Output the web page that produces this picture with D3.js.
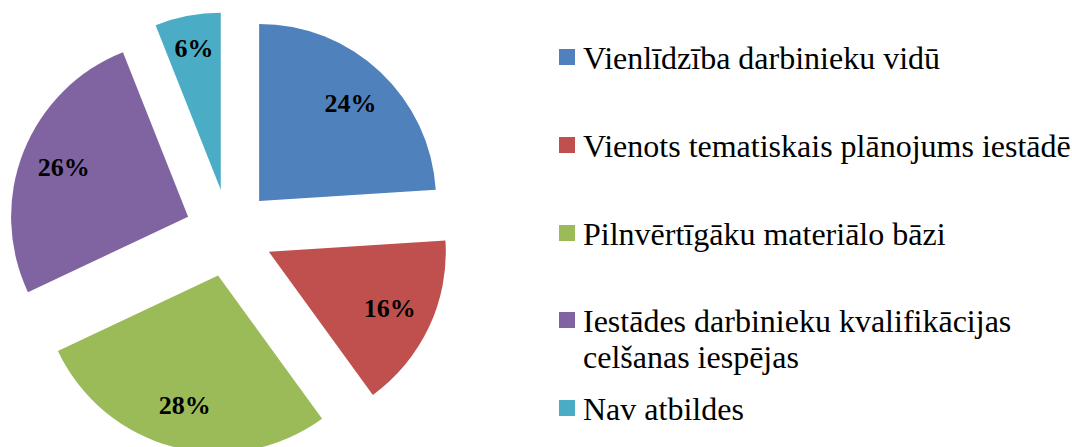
<!DOCTYPE html>
<html>
<head>
<meta charset="utf-8">
<script src="https://cdn.jsdelivr.net/npm/d3@7"></script>
<style>
  html, body { margin: 0; padding: 0; background: #fff; }
  svg { display: block; }
</style>
</head>
<body>
<svg id="chart" width="1072" height="447"></svg>
<script>
const categories = [
  "Vienlīdzība darbinieku vidū",
  "Vienots tematiskais plānojums iestādē",
  "Pilnvērtīgāku materiālo bāzi",
  "Iestādes darbinieku kvalifikācijas celšanas iespējas",
  "Nav atbildes"
];
const legendLines = [
  ["Vienlīdzība darbinieku vidū"],
  ["Vienots tematiskais plānojums iestādē"],
  ["Pilnvērtīgāku materiālo bāzi"],
  ["Iestādes darbinieku kvalifikācijas", "celšanas iespējas"],
  ["Nav atbildes"]
];
const values = [24, 16, 28, 26, 6];
const colors = ["#4F81BD", "#C0504D", "#9BBB59", "#8064A2", "#4BACC6"];

const svg = d3.select("#chart");
const cx = 229, cy = 233, R = 177, explode = 44;

const pie = d3.pie().sort(null).value(d => d.value);
const arcs = pie(values.map((v, i) => ({ value: v, name: categories[i], color: colors[i] })));
const arc = d3.arc().innerRadius(0).outerRadius(R);
// small slices get their label pushed further out
const labelRadius = d => (d.endAngle - d.startAngle) < 0.1 * 2 * Math.PI ? R * 0.81 : R * 0.755;

const g = svg.append("g").attr("transform", `translate(${cx},${cy})`);
const slices = g.selectAll("g.slice").data(arcs).enter().append("g")
  .attr("class", "slice")
  .attr("transform", d => {
    const m = (d.startAngle + d.endAngle) / 2;
    return `translate(${explode * Math.sin(m)},${-explode * Math.cos(m)})`;
  });
slices.append("path").attr("d", arc).attr("fill", d => d.data.color);
slices.append("text")
  .attr("x", d => labelRadius(d) * Math.sin((d.startAngle + d.endAngle) / 2))
  .attr("y", d => -labelRadius(d) * Math.cos((d.startAngle + d.endAngle) / 2))
  .attr("text-anchor", "middle")
  .attr("dominant-baseline", "central")
  .attr("font-family", "'Liberation Serif', 'Times New Roman', serif")
  .attr("font-weight", "bold")
  .attr("font-size", 26)
  .attr("fill", "#000")
  .text(d => d.data.value + "%");

// Legend
const legendBaselines = [69, 157, 245, 332, 420];
const lg = svg.append("g");
legendLines.forEach((lines, i) => {
  const y = legendBaselines[i];
  lg.append("rect").attr("x", 559).attr("y", y - 20).attr("width", 16).attr("height", 16).attr("fill", colors[i]);
  const t = lg.append("text")
    .attr("x", 583).attr("y", y)
    .attr("font-family", "'Liberation Serif', 'Times New Roman', serif")
    .attr("font-size", 32)
    .attr("fill", "#000");
  lines.forEach((ln, j) => {
    t.append("tspan").attr("x", 583).attr("y", y + j * 36).text(ln);
  });
});
</script>
</body>
</html>
